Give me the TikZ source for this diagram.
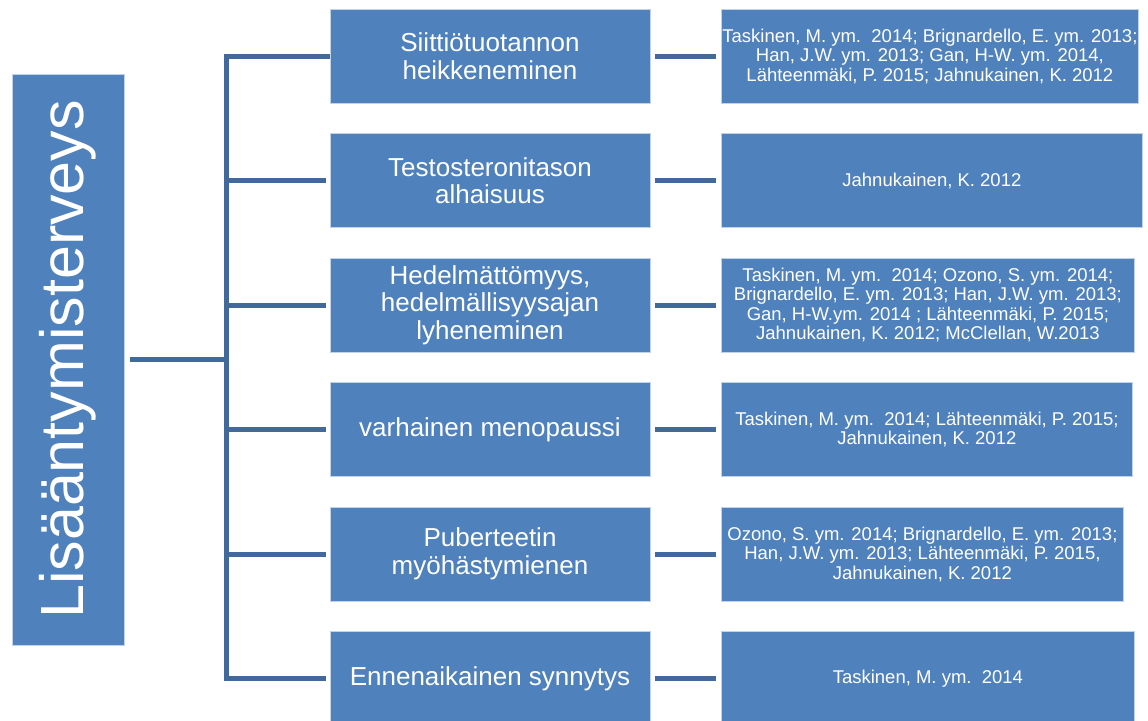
\documentclass[tikz,border=0pt]{standalone}
\usepackage{fontspec}
\setmainfont{Liberation Sans}
\definecolor{boxblue}{HTML}{4F81BD}
\definecolor{linkblue}{HTML}{41699B}
\begin{document}
\begin{tikzpicture}[x=1pt,y=-1pt,
  box/.style={fill=boxblue, draw=boxblue!35!white, line width=0.8pt, inner sep=0pt,
              text=white, align=center},
  midbox/.style={box, minimum width=320pt, minimum height=94pt,
                 font=\fontsize{26}{27.5}\selectfont},
  refbox/.style={box, anchor=west, minimum height=94pt,
                 font=\fontsize{18.5}{19.5}\selectfont},
  link/.style={draw=linkblue, line width=5pt}]
\useasboundingbox (0,0) rectangle (1148,720);

% root box with vertical title
\node[box, minimum width=112pt, minimum height=571pt] (main) at (68,359.5) {};
\node[rotate=90, text=white, inner sep=0pt, font=\fontsize{61}{61}\selectfont]
  (maintext) at (main.center) {Lisääntymisterveys};

% effect boxes
\node[midbox] (a1) at (490,56)    {Siittiötuotannon\\heikkeneminen};
\node[midbox] (a2) at (490,180.5) {Testosteronitason\\alhaisuus};
\node[midbox] (a3) at (490,305)   {Hedelmättömyys,\\hedelmällisyysajan\\lyheneminen};
\node[midbox] (a4) at (490,429.5) {varhainen menopaussi};
\node[midbox] (a5) at (490,554)   {Puberteetin\\myöhästymienen};
\node[midbox] (a6) at (490,678.5) {Ennenaikainen synnytys};

% reference boxes
\node[refbox, minimum width=417pt] (r1) at (721,56)
  {Taskinen, M. ym.~~2014; Brignardello, E. ym. 2013;\\Han, J.W. ym. 2013; Gan, H-W. ym. 2014,\\Lähteenmäki, P. 2015; Jahnukainen, K. 2012};
\node[refbox, minimum width=421pt] (r2) at (721,180.5)
  {Jahnukainen, K. 2012};
\node[refbox, minimum width=413pt] (r3) at (721,305)
  {Taskinen, M. ym.~~2014; Ozono, S. ym. 2014;\\Brignardello, E. ym. 2013; Han, J.W. ym. 2013;\\Gan, H-W.ym. 2014 ; Lähteenmäki, P. 2015;\\Jahnukainen, K. 2012; McClellan, W.2013};
\node[refbox, minimum width=411pt] (r4) at (721,429.5)
  {Taskinen, M. ym.~~2014; Lähteenmäki, P. 2015;\\Jahnukainen, K. 2012};
\node[refbox, minimum width=402pt] (r5) at (721,554)
  {Ozono, S. ym. 2014; Brignardello, E. ym. 2013;\\Han, J.W. ym. 2013; Lähteenmäki, P. 2015,\\Jahnukainen, K. 2012};
\node[refbox, minimum width=413pt] (r6) at (721,678.5)
  {Taskinen, M. ym.~~2014};

% tree connectors
\coordinate (hub) at (226,359.5);
\draw[link, shorten <=6pt] (main.east) -- (main.east -| hub);
\draw[link, shorten >=4pt] (a1.west) -- (a1.west -| hub) -- (a6.west -| hub) -- (a6.west);
\foreach \i in {2,...,5}
  \draw[link, shorten >=4pt] (a\i.west -| hub) -- (a\i.west);
\foreach \i in {1,...,6}
  \draw[link, shorten <=5pt, shorten >=5pt] (a\i.east) -- (r\i.west);
\end{tikzpicture}
\end{document}
